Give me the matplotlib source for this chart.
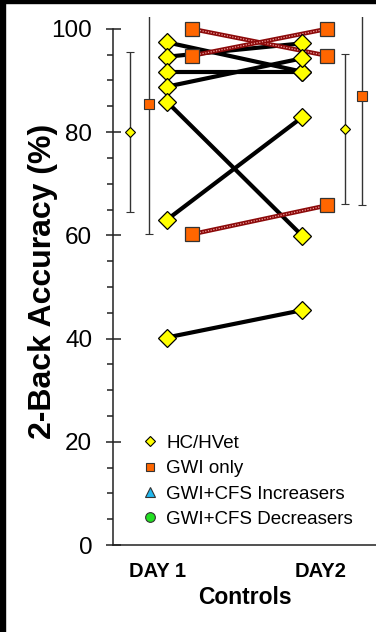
import numpy as np
import matplotlib
matplotlib.use('Agg')
import matplotlib.pyplot as plt
from matplotlib.lines import Line2D
from matplotlib.patches import Rectangle

plt.rcParams['font.family'] = ['Liberation Sans', 'DejaVu Sans']

#Data
days = ['DAY 1', 'DAY2']
hc_day1 = [97.4, 94.6, 91.7, 88.8, 85.9, 63.0, 40.2]
hc_day2 = [91.7, 97.2, 91.7, 94.3, 59.9, 82.9, 45.5]
gwi_day1 = [100.0, 94.8, 60.2]
gwi_day2 = [94.8, 100.0, 65.8]
hc_mean = [80.0, 80.6]
hc_sd = [15.5, 14.6]
gwi_mean = [85.5, 87.0]
gwi_sd = [25.2, 21.1]
legend_labels = ['HC/HVet', 'GWI only', 'GWI+CFS Increasers', 'GWI+CFS Decreasers']

#Positions (x units)
x_day = np.array([1.0, 2.0])
off_gwi = 0.184
x_mean_hc = [0.728, 2.316]
x_mean_gwi = [0.872, 2.441]
x_ticks = [0.934, 2.132]

fig = plt.figure(figsize=(3.76, 6.32), dpi=100)
ax = fig.add_axes([113/376, 87/632, 263/376, 528/632])

#black lines for controls
for a, b in zip(hc_day1, hc_day2):
    ax.plot(x_day, [a, b], color='black', lw=3.0, zorder=2, solid_capstyle='butt')

#patterned lines for GWI only
for a, b in zip(gwi_day1, gwi_day2):
    ax.plot(x_day + off_gwi, [a, b], color='#8c0a0a', lw=3.2, zorder=3, solid_capstyle='butt')
    ax.plot(x_day + off_gwi, [a, b], color='#f0a0a0', lw=0.9, ls=(0, (1, 1.2)), zorder=3)

ax.plot([x_day[0]]*len(hc_day1), hc_day1, ls='none', marker='D', ms=9.2,
        mfc='#ffff00', mec='black', mew=0.9, zorder=5)
ax.plot([x_day[1]]*len(hc_day2), hc_day2, ls='none', marker='D', ms=9.2,
        mfc='#ffff00', mec='black', mew=0.9, zorder=5)
ax.plot([x_day[0] + off_gwi]*len(gwi_day1), gwi_day1, ls='none', marker='s', ms=10,
        mfc='#ff6600', mec='#333333', mew=0.9, zorder=5)
ax.plot([x_day[1] + off_gwi]*len(gwi_day2), gwi_day2, ls='none', marker='s', ms=10,
        mfc='#ff6600', mec='#333333', mew=0.9, zorder=5)

#means with sd
ax.errorbar(x_mean_hc, hc_mean, yerr=hc_sd, fmt='D', ms=5.2, mfc='#ffff00', mec='black',
            mew=0.8, ecolor='#333333', elinewidth=1.0, capsize=3.2, capthick=1.0, zorder=4)
ax.errorbar(x_mean_gwi, gwi_mean, yerr=gwi_sd, fmt='s', ms=7, mfc='#ff6600', mec='#333333',
            mew=0.8, ecolor='#333333', elinewidth=1.0, capsize=3.2, capthick=1.0, zorder=4)

ax.set_xlim(0.603, 2.544)
ax.set_ylim(0, 102.3)
ax.spines['top'].set_visible(False)
ax.spines['right'].set_visible(False)
ax.spines['left'].set_bounds(0, 100)
for s in ['left', 'bottom']:
    ax.spines[s].set_linewidth(1.1)
    ax.spines[s].set_color('#222222')

ax.set_yticks([0, 20, 40, 60, 80, 100])
ax.set_yticks(np.arange(0, 101, 5), minor=True)
ax.tick_params(axis='y', which='major', direction='inout', length=10.8, width=1.1,
               color='#222222', labelsize=17.5, pad=9.5)
ax.tick_params(axis='y', which='minor', direction='out', length=4.3, width=1.1, color='#222222')
ax.set_xticks(x_ticks)
ax.set_xticklabels(days, fontweight='bold', fontsize=14.5)
ax.tick_params(axis='x', length=0, pad=12)

ax.set_ylabel('2-Back Accuracy (%)', fontsize=23, fontweight='bold')
ax.yaxis.set_label_coords(-0.208, 0.5)
ax.set_xlabel('Controls', fontsize=16.5, fontweight='bold', labelpad=4)

handles = [
    Line2D([], [], ls='none', marker='D', ms=5.2, mfc='#ffff00', mec='black', mew=0.8),
    Line2D([], [], ls='none', marker='s', ms=6, mfc='#ff6600', mec='#333333', mew=0.8),
    Line2D([], [], ls='none', marker='^', ms=7.5, mfc='#22b8ee', mec='#333333', mew=0.8),
    Line2D([], [], ls='none', marker='o', ms=7, mfc='#22e022', mec='#333333', mew=0.8),
]
ax.legend(handles, legend_labels, loc='lower left', bbox_to_anchor=(0.075, 0.018),
          frameon=False, fontsize=13.5, handlelength=1.0, handletextpad=0.4,
          labelspacing=0.44, borderaxespad=0)

#black frame on top and left edge
fig.patches.append(Rectangle((0, 0), 5/376, 1, transform=fig.transFigure,
                             color='black', zorder=10))
fig.patches.append(Rectangle((0, 629/632), 1, 3/632, transform=fig.transFigure,
                             color='black', zorder=10))

fig.savefig('out.png', dpi=100)
